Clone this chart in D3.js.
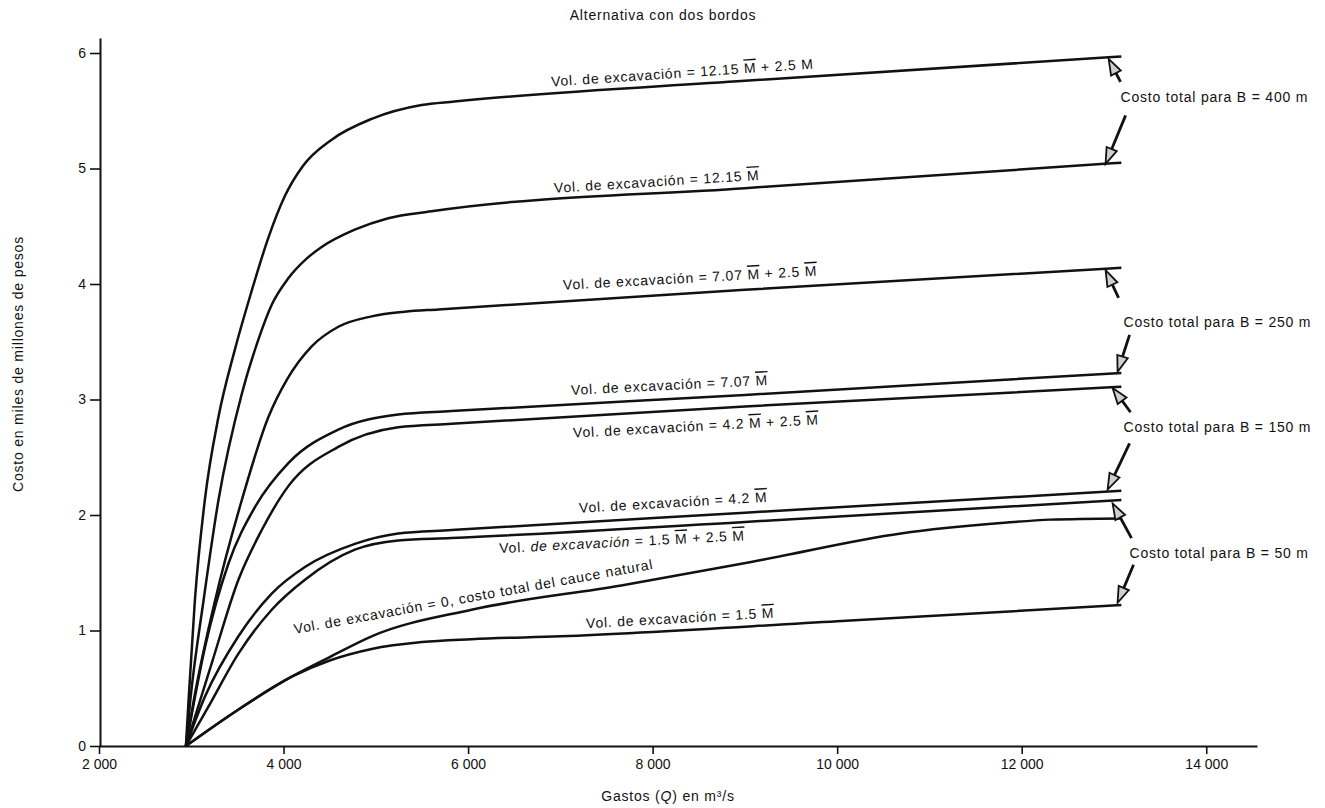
<!DOCTYPE html>
<html>
<head>
<meta charset="utf-8">
<script src="https://cdn.jsdelivr.net/npm/d3@7"></script>
<style>
  body { margin: 0; background: #fff; }
  svg { display: block; font-family: "Liberation Sans", Arial, Helvetica, sans-serif; }
</style>
</head>
<body>
<div id="chart"></div>
<script>
const width = 1325;
const height = 808;

// axis ticks
const qTicks = [2000, 4000, 6000, 8000, 10000, 12000, 14000];
const qTickLabels = ["2 000", "4 000", "6 000", "8 000", "10 000", "12 000", "14 000"];
const costTicks = [0, 1, 2, 3, 4, 5, 6];

// curves: [Q (m3/s), costo (miles de millones)]
const vol1215Plus25 = [[2942, 0], [2971, 0.40], [3039, 1.26], [3147, 2.13], [3295, 2.85], [3472, 3.43], [3647, 3.92], [3835, 4.40], [4013, 4.76], [4208, 5.02], [4522, 5.25], [4955, 5.43], [5496, 5.55], [5853, 5.58], [9000, 5.76], [13080, 5.97]];
const vol1215 = [[2942, 0], [2990, 0.40], [3133, 1.26], [3295, 2.13], [3548, 3.05], [3728, 3.52], [3872, 3.82], [4052, 4.05], [4250, 4.22], [4413, 4.32], [4771, 4.47], [5135, 4.57], [5604, 4.63], [9000, 4.83], [13080, 5.05]];
const vol707Plus25 = [[2942, 0], [3028, 0.40], [3258, 1.26], [3548, 2.13], [3837, 2.85], [4035, 3.17], [4305, 3.46], [4594, 3.63], [4955, 3.72], [5312, 3.76], [5677, 3.78], [9000, 3.95], [13080, 4.14]];
const vol707 = [[2942, 0], [3150, 0.86], [3403, 1.58], [3691, 2.07], [4052, 2.45], [4593, 2.74], [5242, 2.87], [5820, 2.90], [9000, 3.04], [13080, 3.23]];
const vol42Plus25 = [[2942, 0], [3223, 0.72], [3511, 1.44], [3764, 1.87], [4052, 2.25], [4593, 2.59], [5242, 2.76], [5820, 2.79], [9000, 2.94], [13080, 3.11]];
const vol42 = [[2942, 0], [3150, 0.43], [3511, 0.95], [3872, 1.32], [4232, 1.55], [4773, 1.75], [5242, 1.84], [5820, 1.87], [9000, 2.02], [13080, 2.21]];
const vol15Plus25 = [[2942, 0], [3186, 0.34], [3511, 0.80], [3872, 1.18], [4232, 1.44], [4773, 1.70], [5242, 1.78], [5820, 1.80], [9000, 1.94], [13080, 2.13]];
const volNatural = [[2942, 0], [3500, 0.31], [4089, 0.60], [4500, 0.77], [4955, 0.95], [6037, 1.18], [7660, 1.39], [9175, 1.61], [10690, 1.84], [11773, 1.93], [12314, 1.96], [13080, 1.97]];
const vol15 = [[2942, 0], [3500, 0.31], [4089, 0.60], [4500, 0.74], [4955, 0.84], [5500, 0.90], [6037, 0.925], [7000, 0.95], [10000, 1.08], [13080, 1.22]];

const curves = [vol1215Plus25, vol1215, vol707Plus25, vol707, vol42Plus25, vol42, vol15Plus25, volNatural, vol15];

// labels along the curves (^M = M with bar, _x_ = italic)
const curveLabels = [
  { text: "Vol. de excavación = 12.15 ^M + 2.5 M", q: 6903, cost: 5.71, angle: -3.9 },
  { text: "Vol. de excavación = 12.15 ^M", q: 6935, cost: 4.79, angle: -3.6 },
  { text: "Vol. de excavación = 7.07 ^M + 2.5 ^M", q: 7032, cost: 3.95, angle: -3.2 },
  { text: "Vol. de excavación = 7.07 ^M", q: 7119, cost: 3.04, angle: -2.9 },
  { text: "Vol. de excavación = 4.2 ^M + 2.5 ^M", q: 7141, cost: 2.67, angle: -3.1 },
  { text: "Vol. de excavación = 4.2 ^M", q: 7206, cost: 2.02, angle: -3.3 },
  { text: "Vol. _de excavación_ = 1.5 ^M + 2.5 ^M", q: 6340, cost: 1.67, angle: -3.0 },
  { text: "Vol. de excavación = 0, costo total del cauce natural", q: 4121, cost: 0.97, angle: -10.3 },
  { text: "Vol. de excavación = 1.5 ^M", q: 7281, cost: 1.02, angle: -3.2 }
];

const totalLabels = [
  { text: "Costo total para B = 400 m", q: 13071, cost: 5.58 },
  { text: "Costo total para B = 250 m", q: 13104, cost: 3.63 },
  { text: "Costo total para B = 150 m", q: 13104, cost: 2.72 },
  { text: "Costo total para B = 50 m", q: 13169, cost: 1.63 }
];

// arrows: from [Q, costo] -> to [Q, costo]
const arrows = [
  [[13071, 5.75], [12942, 5.95]],
  [[13126, 5.46], [12909, 5.04]],
  [[13050, 3.88], [12909, 4.12]],
  [[13169, 3.56], [13039, 3.24]],
  [[13180, 2.89], [12985, 3.10]],
  [[13169, 2.62], [12931, 2.22]],
  [[13190, 1.80], [12985, 2.10]],
  [[13212, 1.57], [13039, 1.24]]
];

const svg = d3
  .select("#chart")
  .append("svg")
  .attr("width", width)
  .attr("height", height);

svg
  .append("rect")
  .attr("width", width)
  .attr("height", height)
  .attr("fill", "#fff");

const xScale = d3.scaleLinear().domain([2000, 14550]).range([99, 1257]);
const yScale = d3.scaleLinear().domain([0, 6.13]).range([746, 38]);

// axes
const xAxis = svg
  .append("g")
  .attr("transform", `translate(0, ${yScale(0)})`)
  .call(
    d3
      .axisBottom(xScale)
      .tickValues(qTicks)
      .tickFormat(function(d, i) {
        return qTickLabels[i];
      })
      .tickSize(8)
      .tickSizeOuter(0)
      .tickPadding(5)
  );

const yAxis = svg
  .append("g")
  .attr("transform", `translate(${xScale(2000) + 1}, 0)`)
  .call(
    d3
      .axisLeft(yScale)
      .tickValues(costTicks)
      .tickFormat(d3.format("d"))
      .tickSize(10)
      .tickSizeOuter(0)
      .tickPadding(4)
  );

[xAxis, yAxis].forEach(function(g) {
  g.select(".domain").attr("stroke", "#111").attr("stroke-width", 2);
  g.selectAll(".tick line").attr("stroke", "#111").attr("stroke-width", 1.6);
  g.selectAll(".tick text")
    .attr("fill", "#111")
    .style("font-size", "14px")
    .style("font-family", "'Liberation Sans', Arial, sans-serif");
});

// curves
const line = d3
  .line()
  .x(function(d) {
    return xScale(d[0]);
  })
  .y(function(d) {
    return yScale(d[1]);
  })
  .curve(d3.curveMonotoneX);

svg
  .append("g")
  .selectAll("path")
  .data(curves)
  .enter()
  .append("path")
  .attr("d", line)
  .attr("fill", "none")
  .attr("stroke", "#111")
  .attr("stroke-width", 2.5)
  .attr("stroke-linejoin", "round");

function richText(sel, text) {
  const parts = text.split(/(\^M|_[^_]+_)/).filter(function(s) {
    return s.length > 0;
  });
  parts.forEach(function(p) {
    const t = sel.append("tspan");
    if (p === "^M") {
      t.text("M").style("text-decoration", "overline");
    } else if (p[0] === "_") {
      t.text(p.slice(1, -1)).style("font-style", "italic");
    } else {
      t.text(p);
    }
  });
}

const textStyle = function(sel) {
  sel
    .attr("fill", "#111")
    .style("font-size", "14px")
    .attr("letter-spacing", 0.8)
    .style("white-space", "pre");
};

svg
  .append("g")
  .selectAll("text")
  .data(curveLabels)
  .enter()
  .append("text")
  .attr("transform", function(d) {
    return `translate(${xScale(d.q)}, ${yScale(d.cost)}) rotate(${d.angle})`;
  })
  .call(textStyle)
  .each(function(d) {
    richText(d3.select(this), d.text);
  });

svg
  .append("g")
  .selectAll("text")
  .data(totalLabels)
  .enter()
  .append("text")
  .attr("x", function(d) {
    return xScale(d.q);
  })
  .attr("y", function(d) {
    return yScale(d.cost);
  })
  .call(textStyle)
  .text(function(d) {
    return d.text;
  });

// arrows with open heads
const arrowG = svg.append("g");
arrows.forEach(function(a) {
  const x1 = xScale(a[0][0]);
  const y1 = yScale(a[0][1]);
  const x2 = xScale(a[1][0]);
  const y2 = yScale(a[1][1]);
  const len = Math.hypot(x2 - x1, y2 - y1);
  const ux = (x2 - x1) / len;
  const uy = (y2 - y1) / len;
  const headLen = 16;
  const headW = 5.5;
  const bx = x2 - ux * headLen;
  const by = y2 - uy * headLen;
  arrowG
    .append("line")
    .attr("x1", x1)
    .attr("y1", y1)
    .attr("x2", bx + ux * 2)
    .attr("y2", by + uy * 2)
    .attr("stroke", "#111")
    .attr("stroke-width", 2.8);
  arrowG
    .append("path")
    .attr(
      "d",
      `M${x2},${y2}L${bx - uy * headW},${by + ux * headW}L${bx + uy * headW},${by - ux * headW}Z`
    )
    .attr("fill", "#cfcfcf")
    .attr("stroke", "#111")
    .attr("stroke-width", 1.8)
    .attr("stroke-linejoin", "miter");
});

// titles
svg
  .append("text")
  .attr("x", 663)
  .attr("y", 20)
  .attr("text-anchor", "middle")
  .call(textStyle)
  .text("Alternativa con dos bordos");

svg
  .append("text")
  .attr("transform", "translate(23, 364) rotate(-90)")
  .attr("text-anchor", "middle")
  .call(textStyle)
  .text("Costo en miles de millones de pesos");

const xLabel = svg
  .append("text")
  .attr("x", 668)
  .attr("y", 801)
  .attr("text-anchor", "middle")
  .call(textStyle);
xLabel.append("tspan").text("Gastos (");
xLabel.append("tspan").style("font-style", "italic").text("Q");
xLabel.append("tspan").text(") en m³/s");
</script>
</body>
</html>
